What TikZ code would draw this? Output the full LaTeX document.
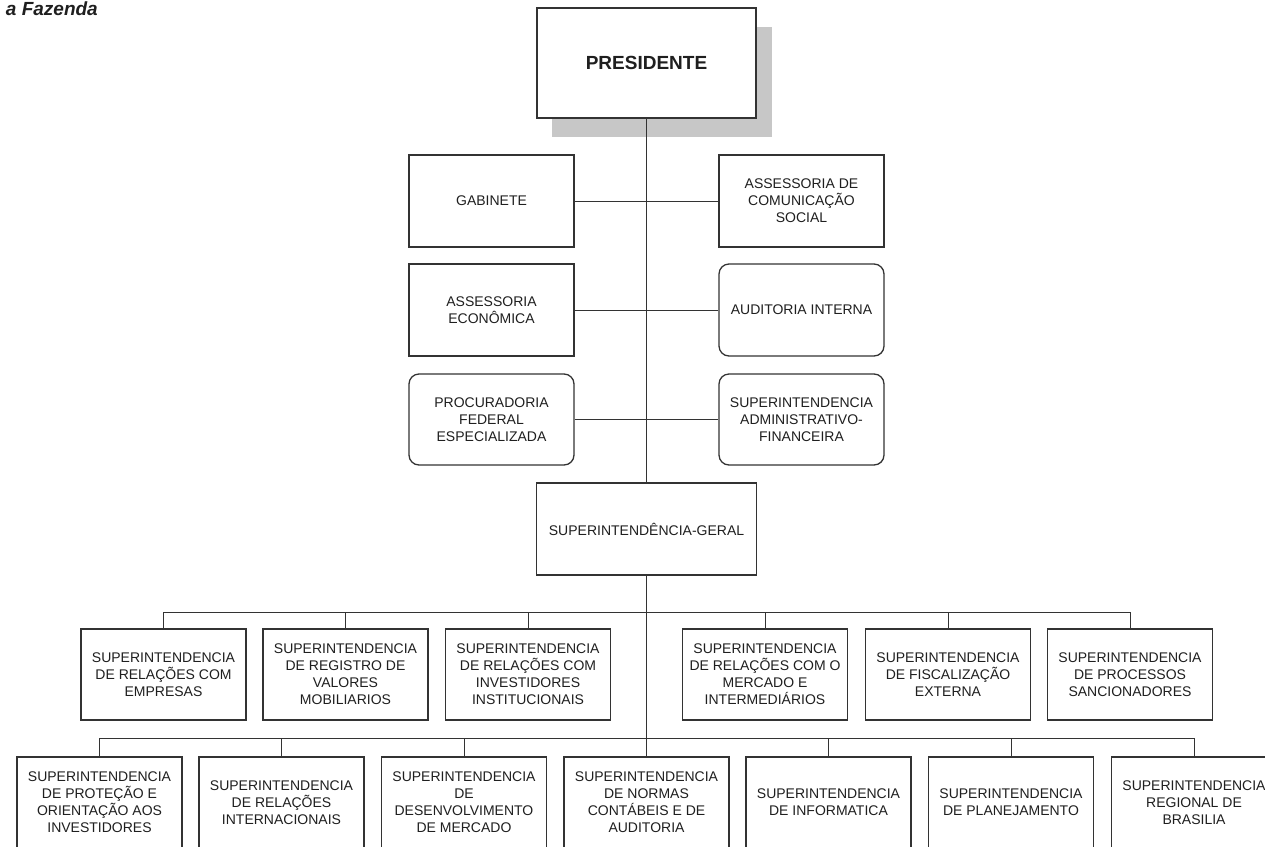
\documentclass[tikz,border=0pt]{standalone}
\usepackage{fontspec}
\setmainfont{Liberation Sans}
\begin{document}
\begin{tikzpicture}[x=1pt,y=-1pt,
  orgbox/.style={draw=black!80, line width=1.3pt, fill=white, align=center,
    inner sep=0pt, minimum width=165pt, minimum height=91pt,
    text=black!88, font=\fontsize{14}{17}\selectfont},
  roundbox/.style={orgbox, rounded corners=10pt},
  conn/.style={draw=black!80, line width=1pt},
  shadowbox/.style={fill=black!22, draw=none, minimum width=220pt, minimum height=110pt, inner sep=0pt}]
\useasboundingbox (0,0) rectangle (1265,846);
\clip (0,0) rectangle (1265,846);
\fill[white] (0,0) rectangle (1265,846);

% header
\node[anchor=base east, inner sep=0pt, text=black!88,
  font=\fontsize{19}{21}\selectfont\bfseries\itshape] (hdr) at (98,15.5) {a Fazenda};

% president
\node[shadowbox] (pshadow) at (662,82) {};
\node[orgbox, minimum width=219pt, minimum height=110pt,
  font=\fontsize{19}{22}\selectfont\bfseries] (pres) at (646.5,63) {PRESIDENTE};

% staff boxes
\node[orgbox, minimum height=92pt] (gab) at (491.5,201) {GABINETE};
\node[orgbox, minimum height=92pt] (asc) at (801.5,201) {ASSESSORIA DE\\COMUNICAÇÃO\\SOCIAL};
\node[orgbox, minimum height=92pt] (ase) at (491.5,310) {ASSESSORIA\\ECONÔMICA};
\node[roundbox, minimum height=92pt] (aud) at (801.5,310) {AUDITORIA INTERNA};
\node[roundbox] (proc) at (491.5,419.5) {PROCURADORIA\\FEDERAL\\ESPECIALIZADA};
\node[roundbox] (saf) at (801.5,419.5) {SUPERINTENDENCIA\\ADMINISTRATIVO-\\FINANCEIRA};

% superintendencia geral
\node[orgbox, minimum width=220pt, minimum height=92pt] (sg) at (646.5,529) {SUPERINTENDÊNCIA-GERAL};

% row A
\node[orgbox] (a1) at (163.5,674.5) {SUPERINTENDENCIA\\DE RELAÇÕES COM\\EMPRESAS};
\node[orgbox] (a2) at (345.5,674.5) {SUPERINTENDENCIA\\DE REGISTRO DE\\VALORES\\MOBILIARIOS};
\node[orgbox] (a3) at (528,674.5) {SUPERINTENDENCIA\\DE RELAÇÕES COM\\INVESTIDORES\\INSTITUCIONAIS};
\node[orgbox] (a4) at (765,674.5) {SUPERINTENDENCIA\\DE RELAÇÕES COM O\\MERCADO E\\INTERMEDIÁRIOS};
\node[orgbox] (a5) at (948,674.5) {SUPERINTENDENCIA\\DE FISCALIZAÇÃO\\EXTERNA};
\node[orgbox] (a6) at (1130,674.5) {SUPERINTENDENCIA\\DE PROCESSOS\\SANCIONADORES};

% row B
\node[orgbox] (b1) at (99.5,802.5) {SUPERINTENDENCIA\\DE PROTEÇÃO E\\ORIENTAÇÃO AOS\\INVESTIDORES};
\node[orgbox] (b2) at (281.5,802.5) {SUPERINTENDENCIA\\DE RELAÇÕES\\INTERNACIONAIS};
\node[orgbox] (b3) at (464,802.5) {SUPERINTENDENCIA\\DE\\DESENVOLVIMENTO\\DE MERCADO};
\node[orgbox] (b4) at (646.5,802.5) {SUPERINTENDENCIA\\DE NORMAS\\CONTÁBEIS E DE\\AUDITORIA};
\node[orgbox] (b5) at (828.5,802.5) {SUPERINTENDENCIA\\DE INFORMATICA};
\node[orgbox] (b6) at (1011,802.5) {SUPERINTENDENCIA\\DE PLANEJAMENTO};
\node[orgbox] (b7) at (1194,802.5) {SUPERINTENDENCIA\\REGIONAL DE\\BRASILIA};

% bus coordinates
\coordinate (busA) at (0,612);
\coordinate (busB) at (0,738);

% connectors
\draw[conn] (pres.south) -- (sg.north);
\draw[conn] (sg.south) -- (b4.north);
\draw[conn] (gab.east) -- (asc.west);
\draw[conn] (ase.east) -- (aud.west);
\draw[conn] (proc.east) -- (saf.west);

\draw[conn] (a1.north) |- (a6.north |- busA) -- (a6.north);
\foreach \n in {a2,a3,a4,a5}
  \draw[conn] (\n.north) -- (\n.north |- busA);

\draw[conn] (b1.north) |- (b7.north |- busB) -- (b7.north);
\foreach \n in {b2,b3,b5,b6}
  \draw[conn] (\n.north) -- (\n.north |- busB);
\end{tikzpicture}
\end{document}
